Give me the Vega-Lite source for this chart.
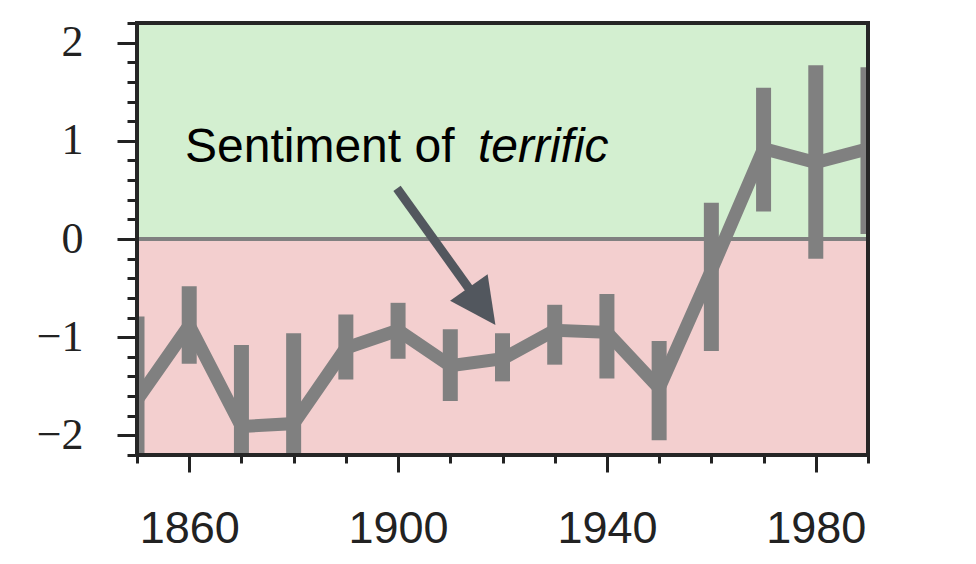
{
  "$schema": "https://vega.github.io/schema/vega-lite/v6.json",
  "width": 731,
  "height": 432,
  "autosize": {"type": "none"},
  "padding": {"left": 137, "top": 23, "right": 108, "bottom": 109},
  "background": "white",
  "config": {
    "view": {"stroke": null},
    "axis": {"grid": false, "domain": false, "title": null, "tickColor": "#222222", "labelColor": "#222222", "tickWidth": 3}
  },
  "datasets": {
    "series": [
      {"year": 1850, "value": -1.64, "lo": -2.4, "hi": -0.79},
      {"year": 1860, "value": -0.88, "lo": -1.27, "hi": -0.48},
      {"year": 1870, "value": -1.91, "lo": -2.4, "hi": -1.08},
      {"year": 1880, "value": -1.88, "lo": -2.4, "hi": -0.96},
      {"year": 1890, "value": -1.11, "lo": -1.43, "hi": -0.77},
      {"year": 1900, "value": -0.93, "lo": -1.22, "hi": -0.65},
      {"year": 1910, "value": -1.29, "lo": -1.65, "hi": -0.92},
      {"year": 1920, "value": -1.22, "lo": -1.45, "hi": -0.96},
      {"year": 1930, "value": -0.93, "lo": -1.28, "hi": -0.67},
      {"year": 1940, "value": -0.95, "lo": -1.42, "hi": -0.56},
      {"year": 1950, "value": -1.52, "lo": -2.05, "hi": -1.04},
      {"year": 1960, "value": -0.32, "lo": -1.14, "hi": 0.37},
      {"year": 1970, "value": 0.92, "lo": 0.28, "hi": 1.54},
      {"year": 1980, "value": 0.78, "lo": -0.2, "hi": 1.77},
      {"year": 1990, "value": 0.92, "lo": 0.05, "hi": 1.75}
    ],
    "bands": [
      {"band": "positive", "lo": 0, "hi": 2.2},
      {"band": "negative", "lo": -2.2, "hi": 0}
    ],
    "frame": [{"x1": 1850, "x2": 1990, "y1": -2.2, "y2": 2.2}],
    "zero": [{"v": 0}],
    "shaft": [{"x1": 1899.8, "y1": 0.516, "x2": 1913.8, "y2": -0.52}],
    "head": [{"x": 1916.1, "y": -0.685}],
    "label1": [{"x": 1859.2, "y": 0.78, "text": "Sentiment of"}],
    "label2": [{"x": 1915.3, "y": 0.78, "text": "terrific"}]
  },
  "resolve": {"axis": {"x": "independent", "y": "independent"}},
  "layer": [
    {
      "data": {"name": "bands"},
      "mark": {"type": "rect"},
      "encoding": {
        "y": {"field": "lo", "type": "quantitative", "scale": {"domain": [-2.2, 2.2], "nice": false, "zero": false}, "axis": null},
        "y2": {"field": "hi"},
        "color": {"field": "band", "type": "nominal", "scale": {"domain": ["positive", "negative"], "range": ["#d3efd0", "#f3cfcf"]}, "legend": null}
      }
    },
    {
      "data": {"name": "zero"},
      "mark": {"type": "rule", "color": "#808080", "strokeWidth": 4},
      "encoding": {
        "y": {"field": "v", "type": "quantitative", "axis": null}
      }
    },
    {
      "data": {"name": "series"},
      "mark": {"type": "rule", "color": "#808080", "strokeWidth": 15, "strokeCap": "butt", "clip": true},
      "encoding": {
        "x": {"field": "year", "type": "quantitative", "scale": {"domain": [1850, 1990], "nice": false, "zero": false},
          "axis": {"orient": "bottom", "values": [1860, 1900, 1940, 1980], "format": "d", "tickSize": 17, "labelFont": "Liberation Sans", "labelFontSize": 45, "labelPadding": 34, "labelFlush": false}},
        "y": {"field": "lo", "type": "quantitative",
          "axis": {"orient": "left", "values": [-2, -1, 0, 1, 2], "tickSize": 20, "labelFont": "Liberation Serif", "labelFontSize": 44, "labelPadding": 34}},
        "y2": {"field": "hi"}
      }
    },
    {
      "data": {"name": "series"},
      "mark": {"type": "line", "color": "#808080", "strokeWidth": 13, "strokeJoin": "miter", "clip": true},
      "encoding": {
        "x": {"field": "year", "type": "quantitative",
          "axis": {"orient": "bottom", "values": [1850, 1860, 1870, 1880, 1890, 1900, 1910, 1920, 1930, 1940, 1950, 1960, 1970, 1980, 1990], "tickSize": 8, "labels": false}},
        "y": {"field": "value", "type": "quantitative",
          "axis": {"orient": "left", "values": [-2.2, -2, -1.8, -1.6, -1.4, -1.2, -1, -0.8, -0.6, -0.4, -0.2, 0, 0.2, 0.4, 0.6, 0.8, 1, 1.2, 1.4, 1.6, 1.8, 2, 2.2], "tickSize": 10, "labels": false}}
      }
    },
    {
      "data": {"name": "frame"},
      "mark": {"type": "rect", "fill": null, "fillOpacity": 0, "stroke": "#262626", "strokeWidth": 4},
      "encoding": {
        "x": {"field": "x1", "type": "quantitative", "axis": null},
        "x2": {"field": "x2"},
        "y": {"field": "y1", "type": "quantitative", "axis": null},
        "y2": {"field": "y2"}
      }
    },
    {
      "data": {"name": "shaft"},
      "mark": {"type": "rule", "color": "#52575e", "strokeWidth": 9},
      "encoding": {
        "x": {"field": "x1", "type": "quantitative", "axis": null},
        "x2": {"field": "x2"},
        "y": {"field": "y1", "type": "quantitative", "axis": null},
        "y2": {"field": "y2"}
      }
    },
    {
      "data": {"name": "head"},
      "mark": {"type": "point", "shape": "M0,-1L1,1L-1,1Z", "size": 2116, "angle": 144.7, "filled": true, "color": "#52575e", "opacity": 1},
      "encoding": {
        "x": {"field": "x", "type": "quantitative", "axis": null},
        "y": {"field": "y", "type": "quantitative", "axis": null}
      }
    },
    {
      "data": {"name": "label1"},
      "mark": {"type": "text", "align": "left", "baseline": "alphabetic", "font": "Liberation Sans", "fontSize": 48, "color": "#000000"},
      "encoding": {
        "x": {"field": "x", "type": "quantitative", "axis": null},
        "y": {"field": "y", "type": "quantitative", "axis": null},
        "text": {"field": "text"}
      }
    },
    {
      "data": {"name": "label2"},
      "mark": {"type": "text", "align": "left", "baseline": "alphabetic", "font": "Liberation Sans", "fontSize": 48, "fontStyle": "italic", "color": "#000000"},
      "encoding": {
        "x": {"field": "x", "type": "quantitative", "axis": null},
        "y": {"field": "y", "type": "quantitative", "axis": null},
        "text": {"field": "text"}
      }
    }
  ]
}
